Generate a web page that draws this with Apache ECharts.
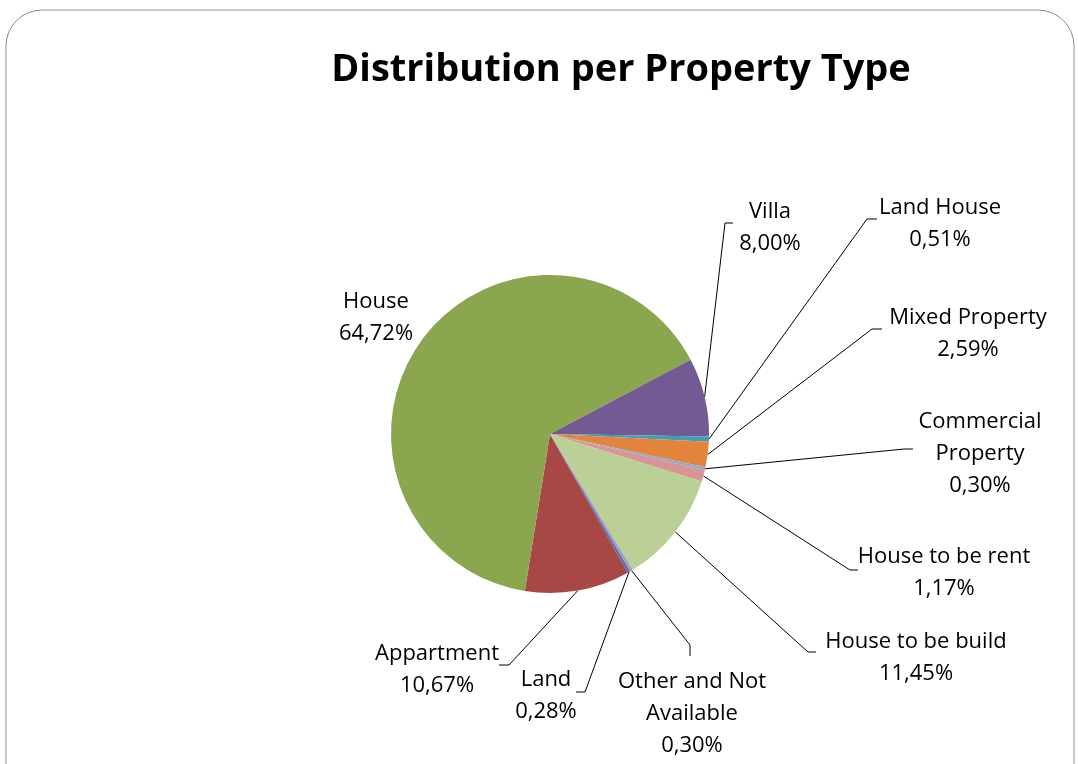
<!DOCTYPE html>
<html>
<head>
<meta charset="utf-8">
<style>
html,body{margin:0;padding:0;background:#fff;}
#chart{width:1078px;height:764px;}
</style>
<script src="https://cdn.jsdelivr.net/npm/echarts@6/dist/echarts.min.js"></script>
</head>
<body>
<div id="chart"></div>
<script>
// ---- data ----
var categories = ['Land', 'Appartment', 'House', 'Villa', 'Land House', 'Mixed Property',
  'Commercial Property', 'House to be rent', 'House to be build', 'Other and Not Available'];
var shares = [0.28, 10.67, 64.72, 8.00, 0.51, 2.59, 0.30, 1.17, 11.45, 0.30];
var labelTexts = ['Land', 'Appartment', 'House', 'Villa', 'Land House', 'Mixed Property',
  'Commercial\nProperty', 'House to be rent', 'House to be build', 'Other and Not\nAvailable'];
var colors = ['#4A78B5', '#A84846', '#8AA64F', '#735A93', '#3FA0B5', '#E3843C',
  '#93A9D5', '#D79595', '#BAD097', '#A99BC0'];

// ---- label layout (positions only) ----
var labelCenters = [[546, 696], [437, 670], [376, 318], [770, 228], [940, 224], [968, 334],
  [980, 454], [944, 573], [916, 658], [692, 714]];
var lineCorners = [[585, 692], [509, 665], null, [725, 223], [867, 219], [872, 329],
  [904, 449], [850, 570], [808, 652], [690, 645]];
var lineEnds = [[576, 692], [499, 665], null, [733, 223], [877, 219], [882, 329],
  [913, 449], [858, 570], [816, 652], [690, 656]];

var chart = echarts.init(document.getElementById('chart'));
var pieData = categories.map(function (c, i) {
  var item = { name: c, value: shares[i], itemStyle: { color: colors[i] } };
  if (i === 2) item.labelLine = { show: false };
  return item;
});

chart.setOption({
  animation: false,
  backgroundColor: '#ffffff',
  graphic: [
    {
      type: 'rect', silent: true,
      shape: { x: 6, y: 10, width: 1068, height: 820, r: 36 },
      style: { fill: 'none', stroke: '#8c8c8c', lineWidth: 1 }
    },
    {
      type: 'text', silent: true,
      style: {
        text: 'Distribution per Property Type', x: 621, y: 70,
        textAlign: 'center', textVerticalAlign: 'middle',
        font: 'bold 38px "Open Sans"', fill: '#000'
      }
    }
  ],
  series: [{
    type: 'pie',
    center: [550, 434],
    radius: 159,
    startAngle: 300.3,
    clockwise: true,
    avoidLabelOverlap: false,
    data: pieData,
    label: {
      show: true,
      position: 'outside',
      color: '#000',
      fontFamily: 'Open Sans',
      fontSize: 22,
      lineHeight: 32,
      align: 'center',
      formatter: function (p) {
        return labelTexts[p.dataIndex] + '\n' + p.value.toFixed(2).replace('.', ',') + '%';
      }
    },
    labelLine: {
      show: true,
      lineStyle: { color: '#000', width: 1 }
    },
    labelLayout: function (p) {
      var i = p.dataIndex;
      var res = {
        x: labelCenters[i][0], y: labelCenters[i][1],
        align: 'center', verticalAlign: 'middle'
      };
      if (lineCorners[i] && p.labelLinePoints) {
        res.labelLinePoints = [p.labelLinePoints[0], lineCorners[i], lineEnds[i]];
      }
      return res;
    }
  }]
});
</script>
</body>
</html>
